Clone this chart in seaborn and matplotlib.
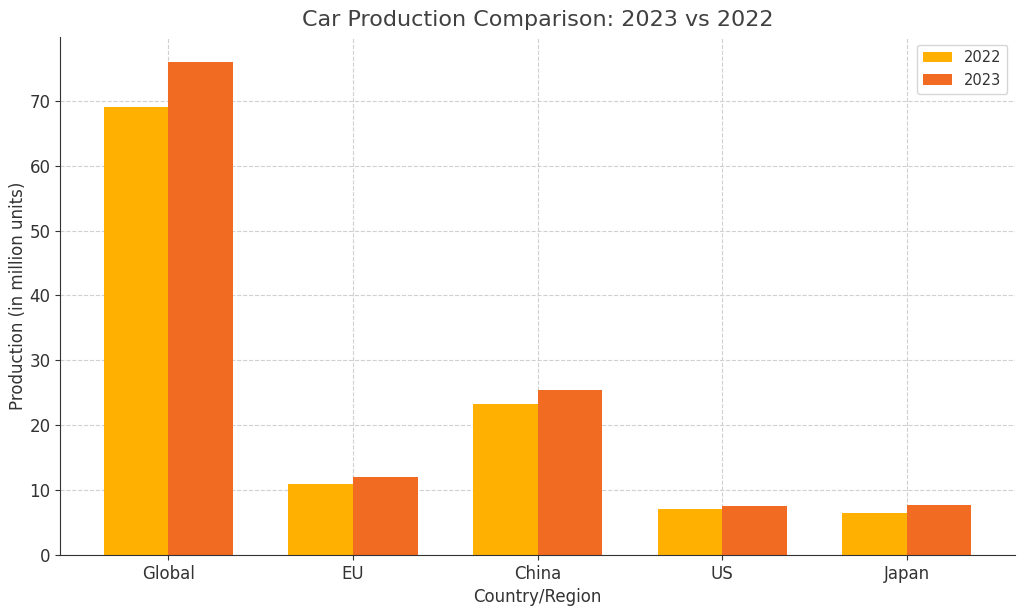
import pandas as pd
import matplotlib
matplotlib.use('Agg')
import matplotlib.pyplot as plt
import seaborn as sns

# Data (million units)
regions = ['Global', 'EU', 'China', 'US', 'Japan']
prod_2022 = [69.0, 10.9, 23.2, 7.0, 6.5]
prod_2023 = [76.0, 12.0, 25.4, 7.6, 7.7]
years = ['2022', '2023']
colors = ['#FFB000', '#F26B22']

df = pd.DataFrame({
    'Country/Region': regions * 2,
    'Year': [years[0]] * len(regions) + [years[1]] * len(regions),
    'Production': prod_2022 + prod_2023,
})

sns.set_style('ticks')
plt.rcParams['font.family'] = ['DejaVu Sans']
plt.rcParams['text.color'] = '#333333'
plt.rcParams['axes.labelcolor'] = '#333333'
plt.rcParams['xtick.color'] = '#333333'
plt.rcParams['ytick.color'] = '#333333'

fig, ax = plt.subplots(figsize=(10.24, 6.11), dpi=100)
sns.barplot(data=df, x='Country/Region', y='Production', hue='Year',
            palette=colors, width=0.7, saturation=1, linewidth=0,
            ax=ax, zorder=2)

ax.set_xlim(-0.585, len(regions) - 1 + 0.585)
ax.set_ylim(0, 79.8)
ax.grid(True, linestyle='--', color='#d0d0d0', linewidth=0.8, zorder=0)
ax.set_axisbelow(True)
sns.despine(ax=ax)
for s in ['left', 'bottom']:
    ax.spines[s].set_color('#333333')

ax.set_title('Car Production Comparison: 2023 vs 2022', fontsize=16,
             color='#404040', pad=8)
ax.set_xlabel('Country/Region', fontsize=12)
ax.set_ylabel('Production (in million units)', fontsize=12, labelpad=2)
ax.tick_params(labelsize=12)
ax.legend(title=None, fontsize=10.5, loc='upper right', frameon=True)

fig.subplots_adjust(left=0.059, right=0.991, top=0.939, bottom=0.092)
fig.savefig('out.png', dpi=100)
